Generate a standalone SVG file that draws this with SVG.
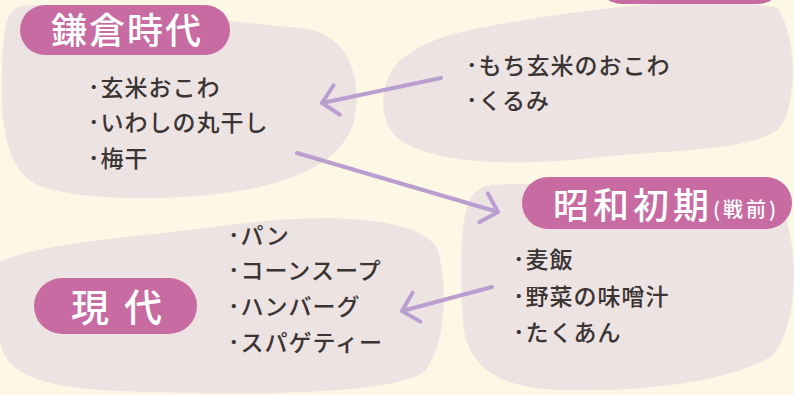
<svg xmlns="http://www.w3.org/2000/svg" width="794" height="395" viewBox="0 0 794 395">
<style>
.bg{fill:#FDF7E5}
.blob{fill:#EDE3E2}
.pill{fill:#C76BA2}
.pt{font-family:"Noto Sans CJK JP","Noto Sans",sans-serif;font-weight:500;fill:#FFFFFF}
.lt{font-family:"Noto Sans CJK JP","Noto Sans",sans-serif;font-weight:500;font-size:23px;fill:#3A3434;letter-spacing:1px}
.arr{stroke:#B99ED0;stroke-width:4;fill:none;stroke-linecap:round}
</style>
<defs>
<marker id="chev" markerUnits="userSpaceOnUse" viewBox="-22 -18 26 36" markerWidth="26" markerHeight="36" refX="0" refY="0" orient="auto">
<path d="M -15,-15 L 0,0 L -15,15" fill="none" stroke="#B99ED0" stroke-width="4" stroke-linecap="round" stroke-linejoin="round"/>
</marker>
</defs>
<rect class="bg" x="0" y="0" width="794" height="395"/>
<g id="kamakura">
<path class="blob" d="M 20,6 C 100,0 220,22 300,28 C 345,32 360,70 356,110 C 352,150 315,175 255,188 C 185,202 85,202 40,186 C 5,172 0,120 2,70 C 3,35 5,10 20,6 Z"/>
<rect class="pill" x="20" y="5" width="210" height="50" rx="25"/>
<text class="pt" x="127" y="44" font-size="36" letter-spacing="2" text-anchor="middle">鎌倉時代</text>
<text class="lt" x="88" y="96">･玄米おこわ</text>
<text class="lt" x="88" y="131">･いわしの丸干し</text>
<text class="lt" x="88" y="167">･梅干</text>
</g>
<g id="heian">
<path class="blob" d="M 470,30 C 560,12 700,-8 778,8 C 798,40 796,100 782,125 C 762,152 660,150 600,157 C 520,166 440,166 400,140 C 375,120 380,80 400,60 C 420,45 440,36 470,30 Z"/>
<rect class="pill" x="597" y="-50" width="186" height="54" rx="25"/>
<text class="lt" x="466" y="74">･もち玄米のおこわ</text>
<text class="lt" x="466" y="109">･くるみ</text>
</g>
<g id="showa">
<path class="blob" d="M 490,185 C 600,180 760,185 785,215 C 800,260 796,330 772,356 C 722,386 620,392 560,390 C 490,388 465,360 463,320 C 460,270 460,220 470,200 C 475,190 482,187 490,185 Z"/>
<rect class="pill" x="522" y="177" width="270" height="52" rx="26"/>
<text class="pt" x="553" y="219" font-size="36" letter-spacing="4">昭和初期</text>
<text class="pt" x="713" y="217" font-size="20" letter-spacing="3">(戦前)</text>
<text class="lt" x="513" y="268">･麦飯</text>
<text class="lt" x="513" y="305">･野菜の味噌汁</text>
<text class="lt" x="513" y="341">･たくあん</text>
</g>
<g id="gendai">
<path class="blob" d="M 0,262 C 40,242 150,236 230,225 C 320,213 420,215 438,250 C 448,290 446,340 426,370 C 400,395 250,395 150,392 C 60,390 5,382 0,340 Z"/>
<rect class="pill" x="34" y="278" width="163" height="56" rx="28"/>
<text class="pt" x="71" y="321" font-size="38">現</text>
<text class="pt" x="124" y="321" font-size="38">代</text>
<text class="lt" x="228" y="244">･パン</text>
<text class="lt" x="228" y="279">･コーンスープ</text>
<text class="lt" x="228" y="315">･ハンバーグ</text>
<text class="lt" x="228" y="351">･スパゲティー</text>
</g>
<g id="connectors">
<line class="arr" x1="441" y1="78" x2="322" y2="103" marker-end="url(#chev)"/>
<line class="arr" x1="297" y1="153" x2="498" y2="212" marker-end="url(#chev)"/>
<line class="arr" x1="492" y1="287" x2="402" y2="311" marker-end="url(#chev)"/>
</g>
</svg>
